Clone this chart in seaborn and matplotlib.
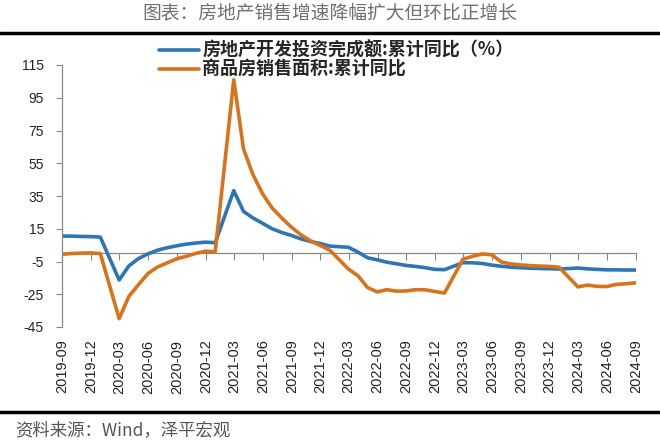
import pandas as pd
import numpy as np
from matplotlib import pyplot as plt
import seaborn as sns

##### Data (monthly, cumulative YoY %, Jan not published)

months = pd.date_range('2019-08-31', '2024-08-31', freq='ME')

invest_yoy = [10.5, 10.5, 10.3, 10.2, 9.9,
              np.nan, -16.3, -7.7, -3.3, -0.3, 1.9, 3.4, 4.6, 5.6, 6.3, 6.8, 6.5,
              np.nan, 38.3, 25.6, 21.6, 18.3, 15.0, 12.7, 10.9, 8.8, 7.2, 6.0, 4.4,
              np.nan, 3.7, 0.7, -2.7, -4.0, -5.4, -6.4, -7.4, -8.0, -8.8, -9.8, -10.0,
              np.nan, -5.7, -5.8, -6.2, -7.2, -7.9, -8.5, -8.8, -9.1, -9.3, -9.4, -9.6,
              np.nan, -9.0, -9.5, -9.8, -10.1, -10.1, -10.2, -10.2]

sales_area_yoy = [-0.6, -0.1, 0.1, 0.2, -0.1,
                  np.nan, -39.9, -26.3, -19.3, -12.3, -8.4, -5.8, -3.3, -1.8, 0.0, 1.3, 1.0,
                  np.nan, 106.0, 63.8, 48.1, 36.3, 27.7, 21.5, 15.9, 11.3, 7.5, 4.8, 1.9,
                  np.nan, -9.6, -13.8, -20.9, -23.6, -22.2, -23.1, -23.0, -22.2, -22.3, -23.3, -24.3,
                  np.nan, -3.6, -1.8, -0.4, -0.9, -5.3, -6.5, -7.1, -7.5, -7.8, -8.0, -8.5,
                  np.nan, -20.5, -19.4, -20.2, -20.3, -19.0, -18.6, -18.0]

series_names = ['房地产开发投资完成额:累计同比（%）', '商品房销售面积:累计同比']
colors = ['#2E75B6', '#D9731A']

tick_dates = pd.date_range('2019-09-01', '2024-09-01', freq='3MS')
tick_labels = [d.strftime('%Y-%m') for d in tick_dates]
y_ticks = list(range(-45, 116, 20))

df = pd.DataFrame({'date': months, series_names[0]: invest_yoy, series_names[1]: sales_area_yoy})
long_df = df.melt(id_vars='date', var_name='series', value_name='value').dropna()

##### Plot

sns.set_style('white')
plt.rcParams['font.family'] = ['Noto Sans CJK SC', 'DejaVu Sans']

fig = plt.figure(figsize=(6.6, 4.43), dpi=100)
ax = fig.add_axes([62 / 660, 1 - 327 / 443, (636 - 62) / 660, (327 - 65) / 443])

sns.lineplot(data=long_df, x='date', y='value', hue='series', palette=colors,
             hue_order=series_names, linewidth=2.6, ax=ax, legend=False)

ax.set_ylim(-45, 115)
ax.set_xlim(months[0], pd.Timestamp('2024-09-01'))
ax.set_yticks(y_ticks)
ax.set_yticklabels([str(v) for v in y_ticks], family='Liberation Sans', fontsize=10, color='#222222')
ax.set_xticks(tick_dates)
ax.set_xticklabels(tick_labels, rotation=90, family='Liberation Sans', fontsize=10.5, color='#222222')
ax.tick_params(axis='x', length=0, pad=9)
ax.tick_params(axis='y', length=4, width=0.8, color='#888888', direction='out', left=True, pad=9)
ax.set_xlabel('')
ax.set_ylabel('')
for side in ['top', 'right', 'bottom']:
    ax.spines[side].set_visible(False)
ax.spines['left'].set_color('#888888')
ax.spines['left'].set_linewidth(0.9)

# zero line with tick marks, labels stay at the bottom
zero_pos = (0 - (-45)) / (115 - (-45))
sec = ax.secondary_xaxis(zero_pos)
sec.set_xticks(tick_dates)
sec.set_xticklabels([''] * len(tick_dates))
sec.tick_params(axis='x', length=5, width=0.8, color='#888888', direction='out')
sec.spines['bottom'].set_color('#888888')
sec.spines['bottom'].set_linewidth(0.9)

##### Legend, title, source

handles = [plt.Line2D([], [], color=c, linewidth=2.6) for c in colors]
fig.legend(handles, series_names, loc='upper left', bbox_to_anchor=(148 / 660, 1 - 30 / 443),
           frameon=False, prop={'family': 'Noto Sans CJK SC', 'weight': 'bold', 'size': 13},
           handlelength=2.2, handletextpad=0.2, labelspacing=0.0, borderpad=0.1)

fig.text(0.5, 1 - 13 / 443, '图表：房地产销售增速降幅扩大但环比正增长', ha='center', va='center',
         fontsize=13.5, color='#707070')
fig.add_artist(plt.Line2D([0, 1], [1 - 33 / 443, 1 - 33 / 443], color='black', linewidth=2.5))
fig.add_artist(plt.Line2D([0, 1], [1 - 412 / 443, 1 - 412 / 443], color='black', linewidth=2.5))
fig.text(15 / 660, 1 - 430 / 443, '资料来源：Wind，泽平宏观', ha='left', va='center',
         fontsize=12.5, color='#555555', style='italic')

plt.savefig('out.png', dpi=100)
